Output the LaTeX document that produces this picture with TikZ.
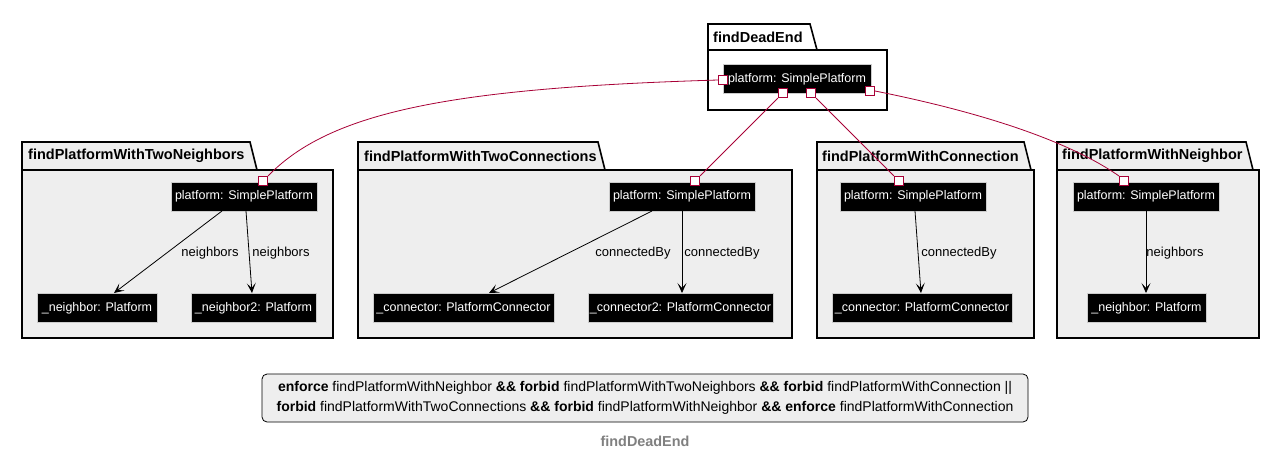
\documentclass[tikz,border=0pt]{standalone}
\usepackage{fontspec}
\setmainfont{Liberation Sans}
\usetikzlibrary{arrows.meta}
\definecolor{crim}{HTML}{A80036}
\definecolor{pkgfill}{HTML}{EEEEEE}
\definecolor{titlegray}{HTML}{808080}
\tikzset{
 obj/.style={fill=black, draw=gray!40, text=white, font=\fontsize{12.5}{14}\selectfont, minimum height=29pt, inner sep=0pt},
 port/.style={draw=crim, fill=white, minimum size=9pt, inner sep=0pt, line width=1.1pt},
 link/.style={draw=crim, line width=0.8pt},
 rel/.style={draw=black, line width=0.8pt, -{Stealth[length=10pt,width=9pt,inset=5pt]}},
 lbl/.style={font=\fontsize{13}{15}\selectfont},
 pkgline/.style={draw=black, line width=1.6pt},
 pkgname/.style={font=\bfseries\fontsize{14.5}{16}\selectfont, anchor=west, inner sep=0pt}
}
\begin{document}
\begin{tikzpicture}[x=1pt,y=-1pt]
\useasboundingbox (0,0) rectangle (1279,459);
\fill[white] (0,0) rectangle (1279,459);

% top package
\draw[pkgline, fill=white] (708,50) -- (708,24) -- (810,24) -- (817,50);
\draw[pkgline, fill=white] (708,50) rectangle (887,110);
\node[pkgname] (pkgTop) at (713,37) {findDeadEnd};

% lower packages
\draw[pkgline, fill=pkgfill] (22,170) -- (22,142) -- (250,142) -- (257,170) -- cycle;
\draw[pkgline, fill=pkgfill] (22,170) rectangle (333,338);
\node[pkgname] (pkgA) at (28,156) {findPlatformWithTwoNeighbors};

\draw[pkgline, fill=pkgfill] (358,170) -- (358,142) -- (598,142) -- (605,170) -- cycle;
\draw[pkgline, fill=pkgfill] (358,170) rectangle (792,338);
\node[pkgname] (pkgB) at (364,156) {findPlatformWithTwoConnections};

\draw[pkgline, fill=pkgfill] (817,170) -- (817,142) -- (1024,142) -- (1031,170) -- cycle;
\draw[pkgline, fill=pkgfill] (817,170) rectangle (1034,338);
\node[pkgname] (pkgC) at (822,156) {findPlatformWithConnection};

\draw[pkgline, fill=pkgfill] (1057,170) -- (1057,142) -- (1246,142) -- (1253,170) -- cycle;
\draw[pkgline, fill=pkgfill] (1057,170) rectangle (1259,338);
\node[pkgname] (pkgD) at (1062,156) {findPlatformWithNeighbor};

% top object
\node[obj, minimum width=148pt] (top) at (797,79) {platform: SimplePlatform};

% package A
\node[obj, minimum width=146pt] (pa) at (244,196.5) {platform: SimplePlatform};
\node[obj, minimum width=120pt] (na1) at (97,308) {\_neighbor: Platform};
\node[obj, minimum width=125pt] (na2) at (253.5,308) {\_neighbor2: Platform};
\draw[rel] (222,211) -- (114,293);
\draw[rel] (246,211) -- (252,293);
\node[lbl] (la1) at (210,253) {neighbors};
\node[lbl] (la2) at (281,253) {neighbors};

% package B
\node[obj, minimum width=146pt] (pb) at (682,196.5) {platform: SimplePlatform};
\node[obj, minimum width=181pt] (cb1) at (463.5,308) {\_connector: PlatformConnector};
\node[obj, minimum width=185pt] (cb2) at (680.5,308) {\_connector2: PlatformConnector};
\draw[rel] (652,211) -- (489,293);
\draw[rel] (682,211) -- (682,293);
\node[lbl] (lb1) at (633,253) {connectedBy};
\node[lbl] (lb2) at (722,253) {connectedBy};

% package C
\node[obj, minimum width=146pt] (pc) at (913,196.5) {platform: SimplePlatform};
\node[obj, minimum width=180pt] (cc) at (922,308) {\_connector: PlatformConnector};
\draw[rel] (915,211) -- (921,293);
\node[lbl] (lc) at (959,253) {connectedBy};

% package D
\node[obj, minimum width=146pt] (pd) at (1146,196.5) {platform: SimplePlatform};
\node[obj, minimum width=119pt] (nd) at (1146.5,308) {\_neighbor: Platform};
\draw[rel] (1146,211) -- (1146,293);
\node[lbl] (ld) at (1175,253) {neighbors};

% ports
\node[port] (t1) at (723,80) {};
\node[port] (t2) at (783,93) {};
\node[port] (t3) at (811,93) {};
\node[port] (t4) at (870,91) {};
\node[port] (qa) at (263,181) {};
\node[port] (qb) at (695,181) {};
\node[port] (qc) at (899,181) {};
\node[port] (qd) at (1124,181) {};

% links
\draw[link] (t1.west) .. controls (450,88) and (330,112) .. (qa.north east);
\draw[link] (t2.south west) -- (qb.north east);
\draw[link] (t3.south east) -- (qc.north west);
\draw[link] (t4.east) .. controls (960,108) and (1060,135) .. (qd.north west);

% constraint box
\node[draw=black, fill=pkgfill, rounded corners=5pt, line width=0.8pt, minimum width=766pt, minimum height=48pt, align=center, font=\fontsize{14}{20}\selectfont] (cons) at (645,398)
{\textbf{enforce} findPlatformWithNeighbor \textbf{\&\& forbid} findPlatformWithTwoNeighbors \textbf{\&\& forbid} findPlatformWithConnection ||\\
\textbf{forbid} findPlatformWithTwoConnections \textbf{\&\& forbid} findPlatformWithNeighbor \textbf{\&\& enforce} findPlatformWithConnection};

\node[font=\bfseries\fontsize{14.4}{16}\selectfont, text=titlegray] (title) at (645,441) {findDeadEnd};
\end{tikzpicture}
\end{document}
